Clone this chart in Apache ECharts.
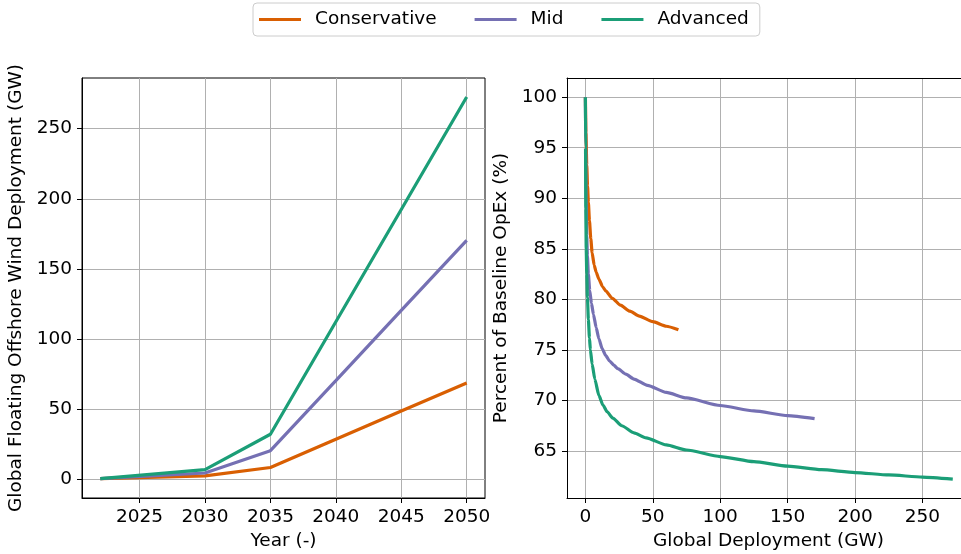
<!DOCTYPE html>
<html>
<head>
<meta charset="utf-8">
<script src="https://cdn.jsdelivr.net/npm/echarts@6/dist/echarts.min.js"></script>
<style>
html,body{margin:0;padding:0;background:#fff;}
#c{width:961px;height:554px;}
</style>
</head>
<body>
<div id="c"></div>
<script>
// ---- Data ----
var seriesNames = ['Conservative', 'Mid', 'Advanced'];
var years = [2022, 2030, 2035, 2040, 2045, 2050];
var consDeploy = [0.7, 2.6, 8.6, 28.7, 48.8, 68.8];
var midDeploy = [0.7, 4.7, 20.6, 70.5, 120.5, 170.4];
var advDeploy = [0.7, 7.1, 32.3, 112.4, 192.4, 272.5];

var consOpexX = [0, 0.4, 1, 1.6, 2.2, 3, 4, 5, 6.5, 8, 10, 12.8, 15, 20, 26, 33, 40, 50, 60, 69];
var consOpexY = [100, 96.5, 93.3, 91.2, 89.6, 87.8, 86.0, 84.6, 83.4, 82.7, 82.0, 81.25, 80.85, 80.1, 79.43, 78.83, 78.35, 77.79, 77.34, 76.99];
var midOpexX = [0, 0.2, 0.5, 1, 1.5, 2.2, 3.2, 4.5, 6, 8, 10, 12.5, 15, 18, 21, 24, 30, 36, 46, 60, 75, 100, 125, 150, 170];
var midOpexY = [100, 95, 90, 86.3, 84.3, 82.5, 80.9, 79.6, 78.5, 77.2, 76.1, 75.1, 74.45, 73.9, 73.5, 73.15, 72.6, 72.12, 71.5, 70.8, 70.25, 69.5, 68.96, 68.5, 68.2];
var advOpexX = [0, 0.1, 0.3, 0.6, 1, 1.5, 2.2, 3, 3.7, 5, 7, 10, 13, 16, 20.3, 27, 36, 45, 60, 75, 100, 125, 150, 175, 200, 225, 250, 272.5];
var advOpexY = [100, 95, 89, 85, 82.5, 80.2, 78.0, 76.2, 75.0, 73.6, 72.1, 70.5, 69.55, 68.9, 68.25, 67.5, 66.8, 66.3, 65.6, 65.1, 64.45, 63.95, 63.5, 63.15, 62.87, 62.63, 62.42, 62.22];

var yearTicks = [2025, 2030, 2035, 2040, 2045, 2050];
var deployTicks = [0, 50, 100, 150, 200, 250];
var opexTicks = [65, 70, 75, 80, 85, 90, 95, 100];
var gwTicks = [0, 50, 100, 150, 200, 250];

var colors = ['#d95f02', '#7570b3', '#1b9e77'];

function zip(a, b) { return a.map(function (v, i) { return [v, b[i]]; }); }

var FONT = 'DejaVu Sans';
var FS = 18.5;

function axisCommon(ticks, name, nameGap) {
  return {
    type: 'value',
    name: name,
    nameLocation: 'middle',
    nameGap: nameGap,
    nameTextStyle: { fontFamily: FONT, fontSize: FS, color: '#000' },
    axisLine: { show: true, onZero: false, lineStyle: { color: '#000', width: 1 } },
    axisTick: { show: true, inside: false, length: 5, lineStyle: { color: '#000', width: 1 }, customValues: ticks },
    axisLabel: { fontFamily: FONT, fontSize: FS, color: '#000', margin: 10, customValues: ticks,
      formatter: function (v) { return String(v); } },
    splitLine: { show: true, lineStyle: { color: '#b0b0b0', width: 1 } }
  };
}

var chart = echarts.init(document.getElementById('c'), null, { renderer: 'canvas' });

var xL = axisCommon(yearTicks, 'Year (-)', 33);
xL.gridIndex = 0; xL.min = 2020.6; xL.max = 2051.4;
var yL = axisCommon(deployTicks, 'Global Floating Offshore Wind Deployment (GW)', 56);
yL.gridIndex = 0; yL.min = -13.1; yL.max = 286;
// right panel: its right spine lies outside the picture, so the axis extent is cut at the canvas edge
var xR = axisCommon(gwTicks, 'Global Deployment (GW)', 33);
xR.gridIndex = 1; xR.min = -13.65; xR.max = 278.6;
xR.nameTextStyle = { fontFamily: FONT, fontSize: FS, color: '#000', padding: [0, 0, 0, 9] };
var xRTop = {
  type: 'value', gridIndex: 1, position: 'top', min: -13.65, max: 278.6,
  axisLine: { show: true, onZero: false, lineStyle: { color: '#000', width: 1 } },
  axisTick: { show: false }, axisLabel: { show: false }, splitLine: { show: false }
};
var yR = axisCommon(opexTicks, 'Percent of Baseline OpEx (%)', 56);
yR.gridIndex = 1; yR.min = 60.35; yR.max = 101.9;

function lineSeries(name, data, xi, yi, idx, smooth) {
  return {
    name: name, type: 'line', data: data,
    xAxisIndex: xi, yAxisIndex: yi,
    showSymbol: false, symbol: 'none',
    smooth: smooth ? 0.2 : false,
    smoothMonotone: smooth ? 'x' : undefined,
    lineStyle: { color: colors[idx], width: 3.2 },
    itemStyle: { color: colors[idx] },
    z: 2 + idx,
    animation: false
  };
}

chart.setOption({
  animation: false,
  color: colors,
  legend: {
    data: seriesNames,
    left: 253, top: 3,
    padding: [7, 11, 7, 6],
    itemWidth: 42, itemHeight: 3, itemGap: 38,
    icon: 'rect',
    borderColor: '#cccccc', borderWidth: 1, borderRadius: 4,
    backgroundColor: '#fff',
    textStyle: { fontFamily: FONT, fontSize: FS, color: '#000', padding: [0, 0, 0, 9] }
  },
  grid: [
    { left: 82, top: 78, width: 403, height: 420, show: true, borderColor: '#000', borderWidth: 1, outerBoundsMode: 'none', containLabel: false },
    { left: 567, top: 78, width: 394, height: 420, show: false, outerBoundsMode: 'none', containLabel: false }
  ],
  xAxis: [xL, xR, xRTop],
  yAxis: [yL, yR],
  series: [
    lineSeries(seriesNames[0], zip(years, consDeploy), 0, 0, 0, false),
    lineSeries(seriesNames[1], zip(years, midDeploy), 0, 0, 1, false),
    lineSeries(seriesNames[2], zip(years, advDeploy), 0, 0, 2, false),
    lineSeries(seriesNames[0], zip(consOpexX, consOpexY), 1, 1, 0, true),
    lineSeries(seriesNames[1], zip(midOpexX, midOpexY), 1, 1, 1, true),
    lineSeries(seriesNames[2], zip(advOpexX, advOpexY), 1, 1, 2, true)
  ]
});
</script>
</body>
</html>
